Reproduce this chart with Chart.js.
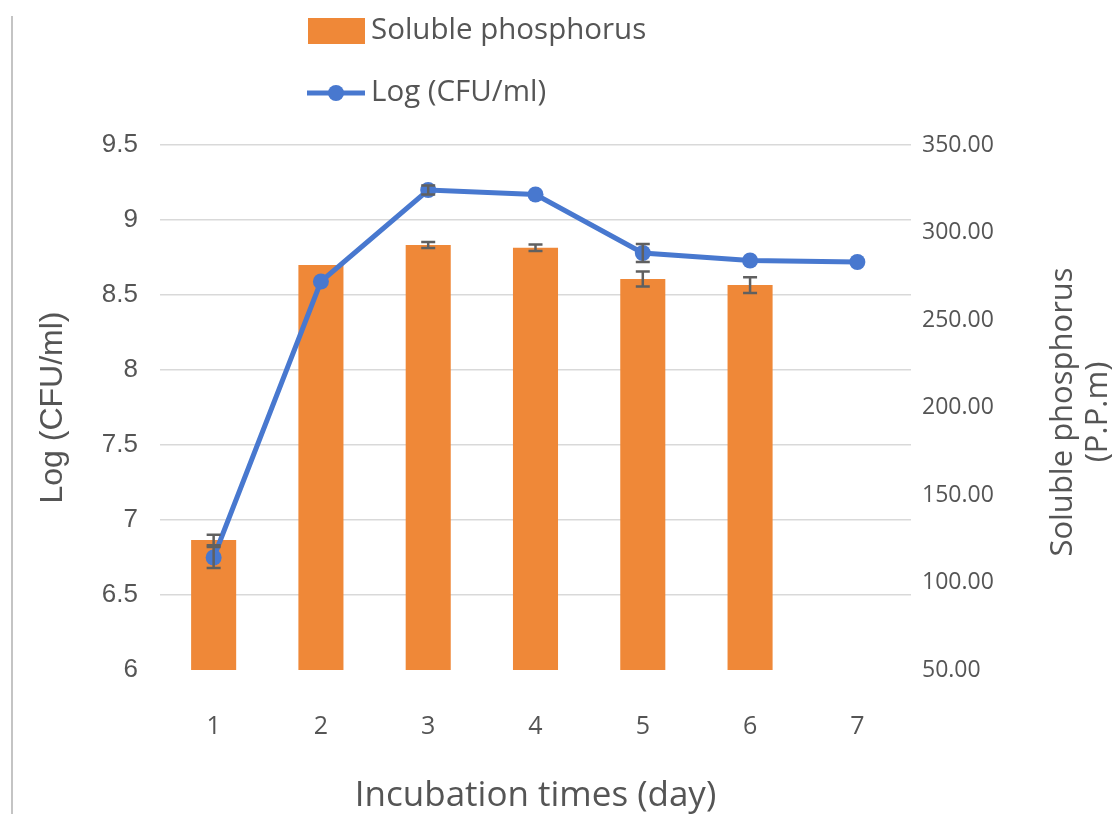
<!DOCTYPE html>
<html>
<head>
<meta charset="utf-8">
<script src="https://cdn.jsdelivr.net/npm/chart.js@4.4.1/dist/chart.umd.min.js"></script>
<style>
  html, body { margin: 0; padding: 0; background: #fff; }
  #wrap { position: relative; width: 1115px; height: 814px; }
  #edge { position: absolute; left: 11px; top: 16px; width: 2px; height: 798px; background: #c4c4c4; }
</style>
</head>
<body>
<div id="wrap">
  <canvas id="grafica" width="1115" height="814"></canvas>
  <div id="edge"></div>
</div>
<script>
// datos
const dias = ['1', '2', '3', '4', '5', '6', '7'];
const fosforo = [124.3, 281.4, 292.9, 291.3, 273.4, 270.0, null];
const fosforoErr = [3.0, 0, 1.7, 1.8, 4.3, 4.5, 0];
const logCFU = [6.75, 8.59, 9.2, 9.17, 8.78, 8.73, 8.72];
const logErr = [0.07, 0, 0.03, 0, 0.06, 0, 0];
const ticksIzq = [6, 6.5, 7, 7.5, 8, 8.5, 9, 9.5];
const ticksDer = [50, 100, 150, 200, 250, 300, 350];

const gris = '#555555';
const naranja = '#EF8838';
const azul = '#4878CF';

// barras de error para cada dataset que tenga "errores"
const errorBars = {
  id: 'errorBars',
  afterDatasetsDraw(chart) {
    const ctx = chart.ctx;
    chart.data.datasets.forEach((ds, i) => {
      if (!ds.errores) return;
      const meta = chart.getDatasetMeta(i);
      const esc = chart.scales[ds.yAxisID];
      meta.data.forEach((el, j) => {
        const v = ds.data[j], e = ds.errores[j];
        if (v == null || !e) return;
        const x = el.x;
        const y1 = esc.getPixelForValue(v + e);
        const y2 = esc.getPixelForValue(v - e);
        ctx.save();
        ctx.strokeStyle = '#606060';
        ctx.lineWidth = 2.5;
        ctx.beginPath();
        ctx.moveTo(x, y1); ctx.lineTo(x, y2);
        ctx.moveTo(x - 7, y1); ctx.lineTo(x + 7, y1);
        ctx.moveTo(x - 7, y2); ctx.lineTo(x + 7, y2);
        ctx.stroke();
        ctx.restore();
      });
    });
  }
};

// leyenda vertical y titulo del eje derecho
const extras = {
  id: 'extras',
  afterDraw(chart) {
    const ctx = chart.ctx;
    ctx.save();
    ctx.font = '29.5px "Open Sans"';
    ctx.textBaseline = 'middle';
    const dsBar = chart.data.datasets[1];
    const dsLine = chart.data.datasets[0];
    ctx.fillStyle = dsBar.backgroundColor;
    ctx.fillRect(308, 18, 57, 26);
    ctx.fillStyle = gris;
    ctx.fillText(dsBar.label, 371, 31);
    ctx.strokeStyle = dsLine.borderColor;
    ctx.lineWidth = 5;
    ctx.beginPath(); ctx.moveTo(307, 93); ctx.lineTo(365, 93); ctx.stroke();
    ctx.fillStyle = dsLine.borderColor;
    ctx.beginPath(); ctx.arc(336, 93, 8, 0, Math.PI * 2); ctx.fill();
    ctx.fillStyle = gris;
    ctx.fillText(dsLine.label, 371, 93);

    ctx.translate(1080, 412);
    ctx.rotate(-Math.PI / 2);
    ctx.textAlign = 'center';
    ctx.font = '31px "Open Sans"';
    ctx.fillText('Soluble phosphorus', 0, -17);
    ctx.fillText('(P.P.m)', 0, 18);
    ctx.restore();
  }
};

const grafica = new Chart(document.getElementById('grafica'), {
  data: {
    labels: dias,
    datasets: [{
      type: 'line',
      label: 'Log (CFU/ml)',
      data: logCFU,
      errores: logErr,
      yAxisID: 'y',
      borderColor: azul,
      backgroundColor: azul,
      borderWidth: 5,
      pointRadius: 8,
      pointBackgroundColor: azul,
      pointBorderWidth: 0,
      tension: 0,
      order: 0
    }, {
      type: 'bar',
      label: 'Soluble phosphorus',
      data: fosforo,
      errores: fosforoErr,
      yAxisID: 'y1',
      backgroundColor: naranja,
      barPercentage: 0.42,
      categoryPercentage: 1,
      order: 1
    }]
  },
  options: {
    responsive: false,
    animation: false,
    layout: { padding: { top: 145, left: 0, right: 0, bottom: 0 } },
    plugins: { legend: { display: false }, tooltip: { enabled: false } },
    scales: {
      x: {
        grid: { display: false, drawTicks: false },
        border: { display: false },
        ticks: { color: gris, font: { family: 'Open Sans', size: 25 }, padding: 42 },
        title: { display: true, text: 'Incubation times (day)', color: gris,
                 font: { family: 'Open Sans', size: 35, lineHeight: 1.0 }, padding: 0 },
        afterFit(s) { s.height = 144; }
      },
      y: {
        position: 'left',
        min: 6, max: 9.5,
        afterBuildTicks(s) { s.ticks = ticksIzq.map(v => ({ value: v })); },
        grid: {
          drawTicks: false,
          color: c => c.tick.value === 6 ? 'rgba(0,0,0,0)' : '#d9d9d9',
          lineWidth: 1.5
        },
        border: { display: false },
        ticks: { color: gris, font: { family: 'Liberation Sans', size: 26 }, padding: 22,
                 callback: v => String(v) },
        title: { display: true, text: 'Log (CFU/ml)', color: gris,
                 font: { family: 'Liberation Sans', size: 32, lineHeight: 1.2 },
                 padding: { top: 34, bottom: 0 } },
        afterFit(s) { s.width = 160; }
      },
      y1: {
        position: 'right',
        min: 50, max: 350,
        afterBuildTicks(s) { s.ticks = ticksDer.map(v => ({ value: v })); },
        grid: { display: false, drawTicks: false },
        border: { display: false },
        ticks: { color: gris, font: { family: 'Open Sans', size: 23 }, padding: 11,
                 callback: v => v.toFixed(2) },
        afterFit(s) { s.width = 204; }
      }
    }
  },
  plugins: [errorBars, extras]
});
</script>
</body>
</html>
